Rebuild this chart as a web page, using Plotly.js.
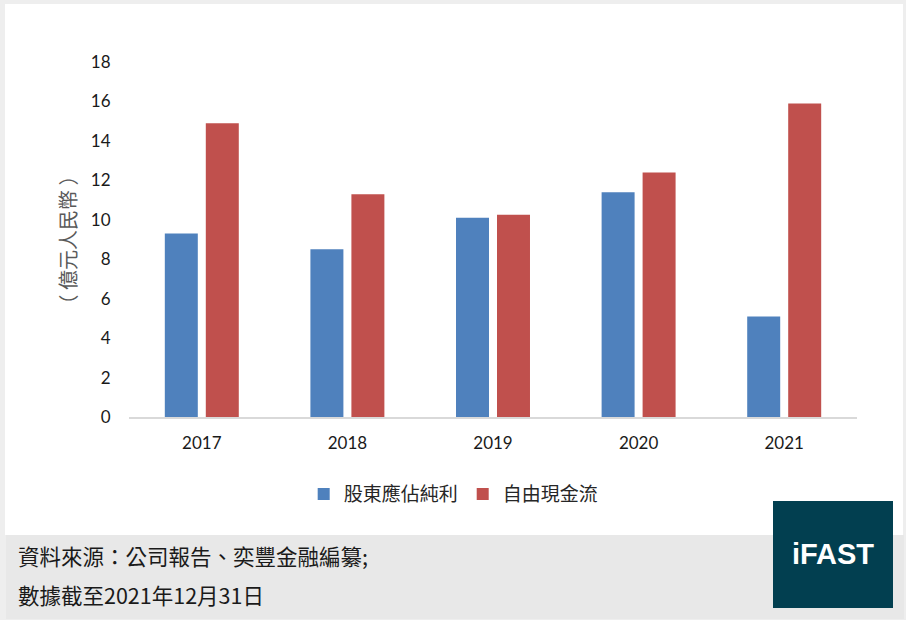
<!DOCTYPE html>
<html>
<head>
<meta charset="utf-8">
<script src="https://cdn.plot.ly/plotly-3.0.1.min.js"></script>
<style>
  body { margin: 0; background: #fff; }
  #frame { position: absolute; left: 0; top: 0; width: 906px; height: 620px; background: #eeeeee; }
  #card { position: absolute; left: 5px; top: 4px; width: 898px; height: 531px; background: #fff; }
  #footer { position: absolute; left: 6px; top: 535px; width: 898px; height: 84px; background: #e8e8e8; }
  .note { position: absolute; left: 12px; font-family: "Noto Sans CJK TC", sans-serif; font-size: 21.5px; color: #1a1a1a; line-height: 1; white-space: nowrap; }
  #logo { position: absolute; left: 773px; top: 501px; width: 120px; height: 107px; background: #023f50;
          color: #fff; font-family: "Liberation Sans", Arial, sans-serif; font-weight: bold; font-size: 29px;
          display: flex; align-items: center; justify-content: center; }
  #chart { position: absolute; left: 0; top: 0; width: 909px; height: 627px; }
</style>
</head>
<body>
<div id="frame"></div>
<div id="card"></div>
<div id="footer">
  <div class="note" style="top: 10px;">資料來源：公司報告、奕豐金融編纂;</div>
  <div class="note" style="top: 49px;">數據截至2021年12月31日</div>
</div>
<div id="chart"></div>
<div id="logo">iFAST</div>
<script>
/***********
  DATA
************/

// Years on the x axis
let years = ["2017", "2018", "2019", "2020", "2021"];

// Net profit attributable to shareholders (hundred million RMB)
let netProfit = [9.3, 8.5, 10.1, 11.4, 5.1];

// Free cash flow (hundred million RMB)
let freeCashFlow = [14.9, 11.3, 10.25, 12.4, 15.9];

let seriesNames = ["股東應佔純利", "自由現金流"];
let yTicks = [0, 2, 4, 6, 8, 10, 12, 14, 16, 18];

/***********
  FUNCTIONS
************/

function drawChart() {
  let numFont = { family: "Lato, 'Open Sans', sans-serif", size: 17, color: "#1a1a1a" };
  let cjkFont = "'Noto Sans CJK TC', sans-serif";

  let barProfit = {
    type: "bar",
    name: seriesNames[0],
    x: years,
    y: netProfit,
    marker: { color: "#4f81bd" },
    hoverinfo: "skip"
  };

  let barCash = {
    type: "bar",
    name: seriesNames[1],
    x: years,
    y: freeCashFlow,
    marker: { color: "#c0504d" },
    hoverinfo: "skip"
  };

  let layout = {
    width: 909,
    height: 627,
    margin: { l: 129, r: 52, t: 62, b: 210 },
    paper_bgcolor: "rgba(0,0,0,0)",
    plot_bgcolor: "rgba(0,0,0,0)",
    barmode: "group",
    bargap: 0.437,
    bargroupgap: 0.195,
    showlegend: true,
    legend: {
      orientation: "h",
      x: 0.446, xanchor: "center",
      y: -0.217, yanchor: "middle",
      font: { family: cjkFont, size: 19, color: "#262626" },
      itemwidth: 30
    },
    xaxis: {
      type: "category",
      range: [-0.5, 4.5],
      showline: true,
      linecolor: "#d9d9d9",
      linewidth: 2,
      showgrid: false,
      zeroline: false,
      ticks: "outside",
      ticklen: 10,
      tickcolor: "rgba(0,0,0,0)",
      tickfont: numFont,
      fixedrange: true
    },
    yaxis: {
      range: [0, 18],
      tickvals: yTicks,
      showline: false,
      showgrid: false,
      zeroline: false,
      ticks: "outside",
      ticklen: 14,
      tickcolor: "rgba(0,0,0,0)",
      tickfont: numFont,
      fixedrange: true
    },
    annotations: [{
      text: "（ 億元人民幣 ）",
      xref: "paper", yref: "paper",
      x: -0.0838, y: 0.5,
      xanchor: "center", yanchor: "middle",
      textangle: -90,
      showarrow: false,
      font: { family: cjkFont, size: 20, color: "#595959" }
    }]
  };

  Plotly.newPlot("chart", [barProfit, barCash], layout, { displayModeBar: false, staticPlot: true });
}

/***********
  INIT
************/
drawChart();
</script>
</body>
</html>
